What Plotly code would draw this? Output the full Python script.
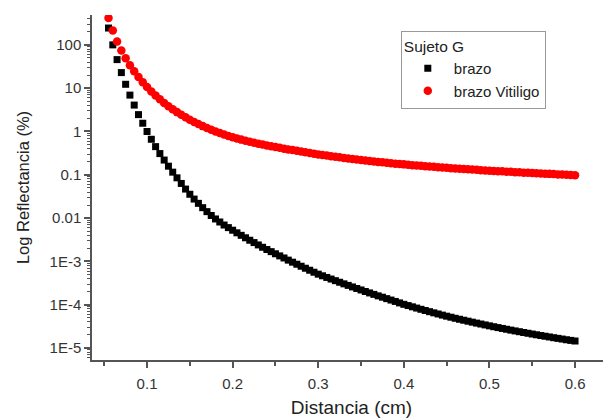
import plotly.graph_objects as go

distancia = [0.055, 0.060, 0.065, 0.070, 0.075, 0.080, 0.085, 0.090, 0.095, 0.100,
             0.105, 0.110, 0.115, 0.120, 0.125, 0.130, 0.135, 0.140, 0.145, 0.150,
             0.155, 0.160, 0.165, 0.170, 0.175, 0.180, 0.185, 0.190, 0.195, 0.200,
             0.205, 0.210, 0.215, 0.220, 0.225, 0.230, 0.235, 0.240, 0.245, 0.250,
             0.255, 0.260, 0.265, 0.270, 0.275, 0.280, 0.285, 0.290, 0.295, 0.300,
             0.305, 0.310, 0.315, 0.320, 0.325, 0.330, 0.335, 0.340, 0.345, 0.350,
             0.355, 0.360, 0.365, 0.370, 0.375, 0.380, 0.385, 0.390, 0.395, 0.400,
             0.405, 0.410, 0.415, 0.420, 0.425, 0.430, 0.435, 0.440, 0.445, 0.450,
             0.455, 0.460, 0.465, 0.470, 0.475, 0.480, 0.485, 0.490, 0.495, 0.500,
             0.505, 0.510, 0.515, 0.520, 0.525, 0.530, 0.535, 0.540, 0.545, 0.550,
             0.555, 0.560, 0.565, 0.570, 0.575, 0.580, 0.585, 0.590, 0.595, 0.600]

brazo = [245, 100, 45.7, 22.9, 12.3, 6.92, 4.07, 2.45, 1.55, 1.00,
         0.661, 0.447, 0.309, 0.219, 0.158, 0.115, 0.0851, 0.0631, 0.0468, 0.0355,
         0.0275, 0.0219, 0.0174, 0.0141, 0.0115, 0.00955, 0.00813, 0.00692, 0.00603, 0.00525,
         0.00457, 0.00400, 0.00351, 0.00308, 0.00272, 0.00240, 0.00212, 0.00188, 0.00168, 0.00150,
         0.00134, 0.00120, 0.00107, 9.59e-4, 8.61e-4, 7.73e-4, 6.95e-4, 6.25e-4, 5.62e-4, 5.07e-4,
         4.65e-4, 4.26e-4, 3.91e-4, 3.59e-4, 3.30e-4, 3.03e-4, 2.79e-4, 2.57e-4, 2.37e-4, 2.19e-4,
         2.02e-4, 1.87e-4, 1.73e-4, 1.60e-4, 1.49e-4, 1.38e-4, 1.28e-4, 1.19e-4, 1.10e-4, 1.02e-4,
         9.55e-5, 8.93e-5, 8.36e-5, 7.83e-5, 7.35e-5, 6.90e-5, 6.49e-5, 6.11e-5, 5.75e-5, 5.43e-5,
         5.14e-5, 4.86e-5, 4.61e-5, 4.38e-5, 4.16e-5, 3.95e-5, 3.76e-5, 3.58e-5, 3.41e-5, 3.25e-5,
         3.10e-5, 2.96e-5, 2.83e-5, 2.71e-5, 2.59e-5, 2.48e-5, 2.38e-5, 2.28e-5, 2.19e-5, 2.10e-5,
         2.02e-5, 1.94e-5, 1.87e-5, 1.80e-5, 1.73e-5, 1.67e-5, 1.61e-5, 1.55e-5, 1.50e-5, 1.45e-5]

brazo_vitiligo = [417, 214, 120, 74.1, 49.0, 33.9, 24.5, 18.2, 13.8, 10.7,
                  8.41, 6.76, 5.52, 4.57, 3.84, 3.26, 2.80, 2.43, 2.12, 1.87,
                  1.66, 1.48, 1.33, 1.21, 1.10, 1.00, 0.923, 0.851, 0.789, 0.733,
                  0.689, 0.649, 0.612, 0.579, 0.550, 0.522, 0.498, 0.475, 0.455, 0.437,
                  0.419, 0.402, 0.386, 0.372, 0.357, 0.344, 0.331, 0.319, 0.308, 0.296,
                  0.287, 0.278, 0.269, 0.261, 0.253, 0.245, 0.238, 0.231, 0.225, 0.219,
                  0.213, 0.208, 0.203, 0.198, 0.194, 0.189, 0.185, 0.181, 0.177, 0.174,
                  0.171, 0.167, 0.164, 0.161, 0.158, 0.156, 0.153, 0.150, 0.147, 0.145,
                  0.142, 0.140, 0.138, 0.136, 0.134, 0.132, 0.130, 0.128, 0.126, 0.124,
                  0.123, 0.121, 0.120, 0.118, 0.117, 0.115, 0.114, 0.112, 0.111, 0.110,
                  0.108, 0.107, 0.106, 0.105, 0.104, 0.102, 0.101, 0.100, 0.0989, 0.0977]

y_tickvals = [1e-5, 1e-4, 1e-3, 0.01, 0.1, 1, 10, 100]
y_ticktext = ["1E-5", "1E-4", "1E-3", "0.01", "0.1", "1", "10", "100"]
x_tickvals = [0.1, 0.2, 0.3, 0.4, 0.5, 0.6]
x_ticktext = ["0.1", "0.2", "0.3", "0.4", "0.5", "0.6"]
x_minor = [0.05, 0.15, 0.25, 0.35, 0.45, 0.55]

fig = go.Figure()
fig.add_trace(go.Scatter(
    x=distancia, y=brazo, mode="markers", name="brazo",
    marker=dict(symbol="square", size=7, color="black", line=dict(width=0)),
))
fig.add_trace(go.Scatter(
    x=distancia, y=brazo_vitiligo, mode="markers", name="brazo Vitiligo",
    marker=dict(symbol="circle", size=8.5, color="#ff0000", line=dict(width=0)),
))

axis_color = "#555555"
fig.update_layout(
    width=603, height=410,
    margin=dict(l=84, r=0, t=7, b=58),
    paper_bgcolor="white", plot_bgcolor="white",
    font=dict(family="Liberation Sans, Arial, sans-serif", size=15, color="#333333"),
    showlegend=True,
    legend=dict(
        title=dict(text="Sujeto G", font=dict(size=15.5, color="#222222")),
        x=0.595, y=0.954, xanchor="left", yanchor="top",
        bordercolor="#999999", borderwidth=1, bgcolor="white",
        font=dict(size=15, color="#222222"),
        tracegroupgap=0, itemsizing="trace", itemwidth=42,
    ),
)
fig.update_xaxes(
    range=[0.0357, 0.642], showgrid=False, zeroline=False, automargin=False,
    showline=True, linecolor=axis_color, linewidth=1.5, mirror=False,
    ticks="outside", ticklen=6, tickwidth=1.5, tickcolor=axis_color,
    tickvals=x_tickvals, ticktext=x_ticktext, ticklabelstandoff=3,
    minor=dict(tickvals=x_minor, ticks="outside",
               ticklen=4, tickwidth=1.5, tickcolor=axis_color),
    tickfont=dict(size=15, color="#333333"),
    title=dict(text="Distancia (cm)", font=dict(size=19, color="#222222"), standoff=10),
)
fig.update_yaxes(
    type="log", range=[-5.277, 2.69], showgrid=False, zeroline=False, automargin=False,
    showline=True, linecolor=axis_color, linewidth=1.5, mirror=False,
    ticks="outside", ticklen=6, tickwidth=1.5, tickcolor=axis_color,
    tickvals=y_tickvals, ticktext=y_ticktext,
    minor=dict(ticks="outside", ticklen=3, tickwidth=1, tickcolor=axis_color, dtick="D1"),
    tickfont=dict(size=15, color="#333333"),
    title=dict(text="Log Reflectancia (%)", font=dict(size=16.5, color="#222222"), standoff=16),
)

fig.write_html("out.html")
